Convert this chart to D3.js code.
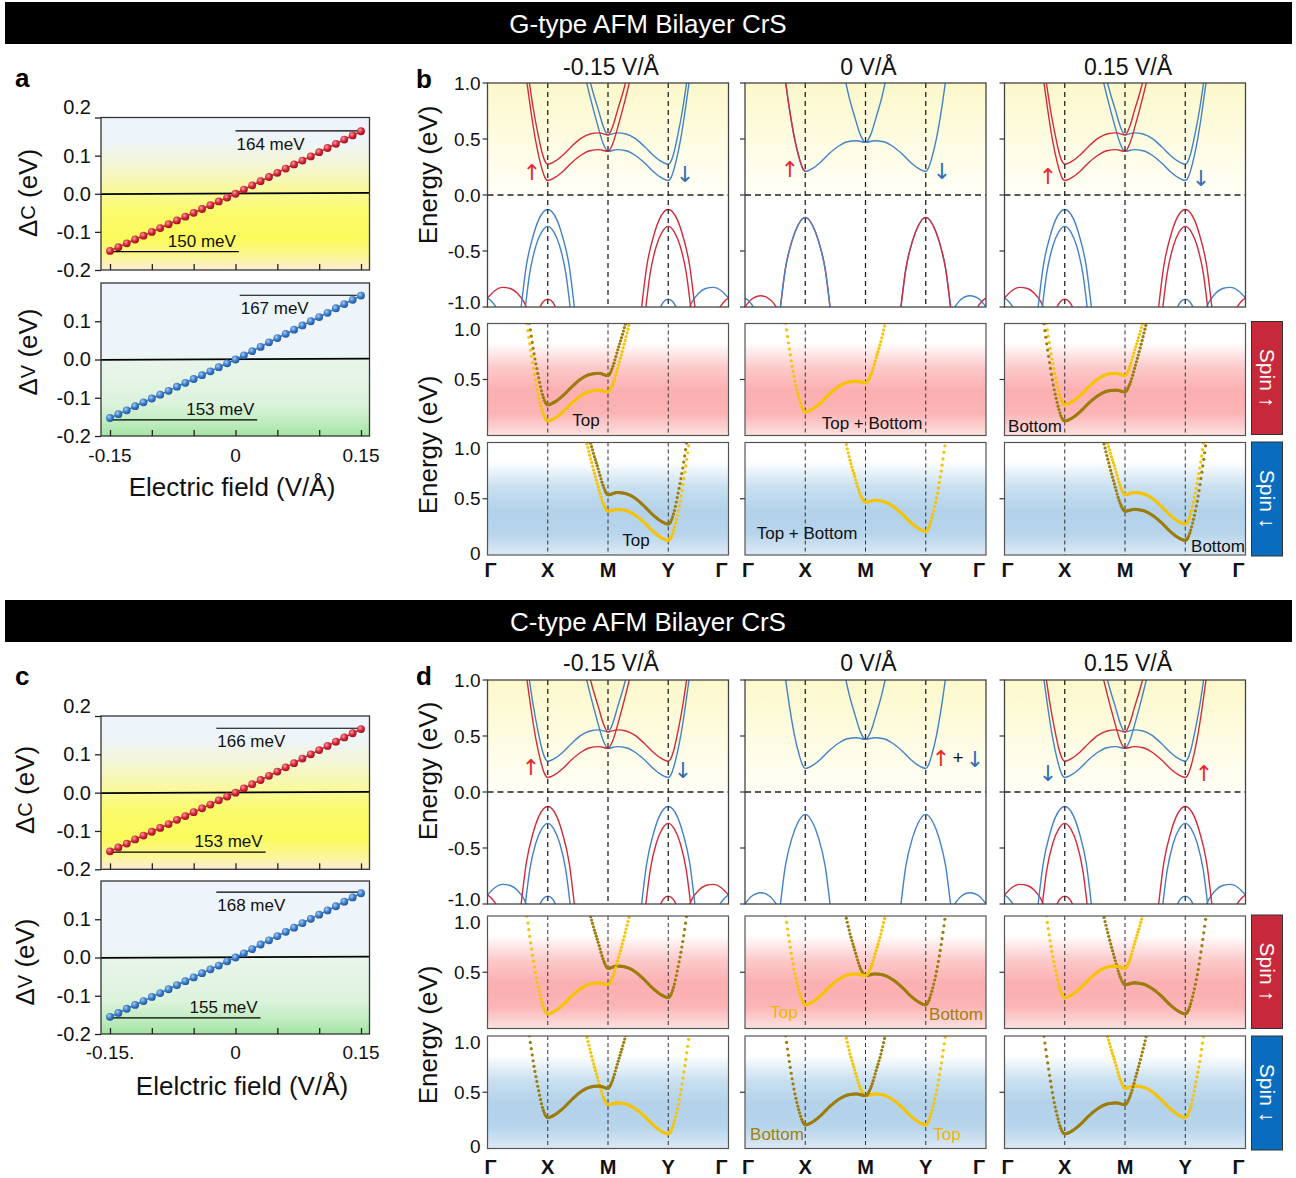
<!DOCTYPE html>
<html>
<head>
<meta charset="utf-8">
<style>
  body { margin: 0; background: #fff; }
  svg { font-family: Arial, "Liberation Sans", sans-serif; }
</style>
</head>
<body>
<svg width="1296" height="1178"></svg>
<script src="https://d3js.org/d3.v7.min.js"></script>
<script>
// ---------- data: panels a / c ----------
const fields = [-0.15,-0.14,-0.13,-0.12,-0.11,-0.10,-0.09,-0.08,-0.07,-0.06,-0.05,-0.04,-0.03,-0.02,-0.01,0,
                0.01,0.02,0.03,0.04,0.05,0.06,0.07,0.08,0.09,0.10,0.11,0.12,0.13,0.14,0.15];
const dcG = [-0.150,-0.140,-0.130,-0.120,-0.110,-0.100,-0.090,-0.080,-0.070,-0.060,-0.050,-0.040,-0.030,-0.020,-0.010,0.000,
             0.011,0.022,0.033,0.044,0.055,0.066,0.077,0.087,0.098,0.109,0.120,0.131,0.142,0.153,0.164];
const dvG = [-0.153,-0.143,-0.133,-0.122,-0.112,-0.102,-0.092,-0.082,-0.071,-0.061,-0.051,-0.041,-0.031,-0.020,-0.010,0.000,
             0.011,0.022,0.033,0.045,0.056,0.067,0.078,0.089,0.100,0.111,0.122,0.134,0.145,0.156,0.167];
const dcC = [-0.153,-0.143,-0.133,-0.122,-0.112,-0.102,-0.092,-0.082,-0.071,-0.061,-0.051,-0.041,-0.031,-0.020,-0.010,0.000,
             0.011,0.022,0.033,0.044,0.055,0.066,0.077,0.089,0.100,0.111,0.122,0.133,0.144,0.155,0.166];
const dvC = [-0.155,-0.145,-0.134,-0.124,-0.114,-0.103,-0.093,-0.083,-0.072,-0.062,-0.052,-0.041,-0.031,-0.021,-0.010,0.000,
             0.011,0.022,0.034,0.045,0.056,0.067,0.078,0.090,0.101,0.112,0.123,0.134,0.146,0.157,0.168];
// gap annotations: label, value, field from, field to
const gapsGc = [["164 meV", 0.165, 0.0, 0.15], ["150 meV", -0.152, -0.15, 0.004]];
const gapsGv = [["167 meV", 0.168, 0.005, 0.145], ["153 meV", -0.158, -0.15, 0.026]];
const gapsCc = [["166 meV", 0.168, -0.023, 0.15], ["153 meV", -0.155, -0.15, 0.036]];
const gapsCv = [["168 meV", 0.171, -0.023, 0.15], ["155 meV", -0.158, -0.15, 0.030]];
const fieldTicks = [-0.15, -0.10, -0.05, 0, 0.05, 0.10, 0.15];
const fieldLabelVals = [-0.15, 0, 0.15];
const fieldLabelsG = ["-0.15", "0", "0.15"];
const fieldLabelsC = ["-0.15.", "0", "0.15"];
const deltaTicks = [0.2, 0.1, 0, -0.1, -0.2];
const deltaLabels = ["0.2", "0.1", "0.0", "-0.1", "-0.2"];

// ---------- data: band structures (k: 0=Γ,1=X,2=M,3=Y,4=Γ ; E in eV) ----------
const kLabels = ["Γ", "X", "M", "Y", "Γ"];
const fieldTitles = ["-0.15 V/Å", "0 V/Å", "0.15 V/Å"];
const bandTicks = [1, 0.5, 0, -0.5, -1];
const bandTickLabels = ["1.0", "0.5", "0.0", "-0.5", "-1.0"];
const spinTicks = [1, 0.5, 0];
const spinTickLabels = ["1.0", "0.5", "0"];

// conduction bands at finite field
const bandA = [[0.64,1.06],[0.72,0.75],[0.80,0.48],[0.88,0.28],[0.95,0.16],[1.0,0.13],[1.1,0.15],[1.25,0.21],[1.4,0.29],
               [1.55,0.355],[1.7,0.395],[1.85,0.405],[2.0,0.39],[2.08,0.46],[2.18,0.64],[2.28,0.84],[2.38,1.06]];
const bandB = [[0.68,1.06],[0.76,0.77],[0.84,0.54],[0.91,0.37],[0.96,0.295],[1.0,0.275],[1.1,0.295],[1.25,0.355],[1.4,0.435],
               [1.55,0.505],[1.7,0.545],[1.85,0.555],[2.0,0.535],[2.07,0.6],[2.16,0.76],[2.25,0.92],[2.32,1.06]];
const bandC = [[1.68,1.06],[1.75,0.92],[1.84,0.76],[1.93,0.6],[2.0,0.535],[2.15,0.555],[2.3,0.545],[2.45,0.505],[2.6,0.435],
               [2.75,0.355],[2.9,0.295],[3.0,0.275],[3.04,0.295],[3.09,0.37],[3.16,0.54],[3.24,0.77],[3.32,1.06]];
const bandD = [[1.62,1.06],[1.72,0.84],[1.82,0.64],[1.92,0.46],[2.0,0.39],[2.15,0.405],[2.3,0.395],[2.45,0.355],[2.6,0.29],
               [2.75,0.21],[2.9,0.15],[3.0,0.13],[3.05,0.16],[3.12,0.28],[3.2,0.48],[3.28,0.75],[3.36,1.06]];
// conduction bands at zero field
const bandE = [[0.66,1.06],[0.74,0.76],[0.82,0.51],[0.9,0.33],[0.96,0.235],[1.0,0.21],[1.1,0.23],[1.25,0.29],[1.4,0.37],
               [1.55,0.435],[1.7,0.475],[1.85,0.485],[2.0,0.47],[2.08,0.53],[2.18,0.7],[2.27,0.87],[2.35,1.06]];
const bandF = [[1.65,1.06],[1.73,0.87],[1.82,0.7],[1.92,0.53],[2.0,0.47],[2.15,0.485],[2.3,0.475],[2.45,0.435],[2.6,0.37],
               [2.75,0.29],[2.9,0.23],[3.0,0.21],[3.04,0.235],[3.1,0.33],[3.18,0.51],[3.26,0.76],[3.34,1.06]];
// valence bands
const peakX1 = [[0.55,-1.04],[0.645,-0.63],[0.755,-0.37],[0.85,-0.22],[0.93,-0.15],[1.0,-0.13],[1.07,-0.15],[1.15,-0.22],[1.245,-0.37],[1.355,-0.63],[1.45,-1.04]];
const peakX2 = [[0.62,-1.04],[0.7,-0.7],[0.8,-0.46],[0.9,-0.33],[1.0,-0.28],[1.1,-0.33],[1.2,-0.46],[1.3,-0.7],[1.38,-1.04]];
const peakY1 = [[2.55,-1.04],[2.645,-0.63],[2.755,-0.37],[2.85,-0.22],[2.93,-0.15],[3.0,-0.13],[3.07,-0.15],[3.15,-0.22],[3.245,-0.37],[3.355,-0.63],[3.45,-1.04]];
const peakY2 = [[2.62,-1.04],[2.7,-0.7],[2.8,-0.46],[2.9,-0.33],[3.0,-0.28],[3.1,-0.33],[3.2,-0.46],[3.3,-0.7],[3.38,-1.04]];
const peakX0 = [[0.58,-1.04],[0.67,-0.66],[0.78,-0.41],[0.88,-0.27],[1.0,-0.2],[1.12,-0.27],[1.22,-0.41],[1.33,-0.66],[1.42,-1.04]];
const peakY0 = [[2.58,-1.04],[2.67,-0.66],[2.78,-0.41],[2.88,-0.27],[3.0,-0.2],[3.12,-0.27],[3.22,-0.41],[3.33,-0.66],[3.42,-1.04]];
const arcL = [[0,-0.92],[0.12,-0.855],[0.25,-0.825],[0.38,-0.835],[0.5,-0.88],[0.6,-0.95],[0.68,-1.05]];
const arcR = [[3.32,-1.05],[3.4,-0.95],[3.5,-0.88],[3.62,-0.835],[3.75,-0.825],[3.88,-0.855],[4.0,-0.92]];
const dipL = [[0,-0.92],[0.07,-0.95],[0.14,-1.0],[0.18,-1.04]];
const dipR = [[3.82,-1.04],[3.86,-1.0],[3.93,-0.95],[4.0,-0.92]];
const bumpX = [[0.84,-1.04],[0.92,-0.955],[1.0,-0.93],[1.08,-0.955],[1.16,-1.04]];
const bumpY = [[2.84,-1.04],[2.92,-0.955],[3.0,-0.93],[3.08,-0.955],[3.16,-1.04]];
const arc0L = [[0,-1.0],[0.1,-0.935],[0.27,-0.9],[0.42,-0.935],[0.57,-1.04]];
const arc0R = [[3.43,-1.04],[3.58,-0.935],[3.73,-0.9],[3.9,-0.935],[4.0,-1.0]];

// ---------- styling ----------
const RED = "#d22b3b", BLUE = "#4282c8", YEL = "#f6c300", OLV = "#9c7c0c";
const ARROW_FONT = "'DejaVu Sans', sans-serif";

const svg = d3.select("svg");
const defs = svg.append("defs");

function vGrad(id, stops) {
  const g = defs.append("linearGradient").attr("id", id)
    .attr("x1", 0).attr("y1", 0).attr("x2", 0).attr("y2", 1);
  stops.forEach(s => g.append("stop").attr("offset", s[0]).attr("stop-color", s[1]));
}
vGrad("gDc", [[0, "#eef4fb"], [0.16, "#eef5f8"], [0.3, "#f3f6d6"], [0.45, "#f8f8a6"], [0.62, "#fbfb6c"], [0.8, "#fbfb5c"], [0.92, "#fbf59a"], [1, "#fcecd6"]]);
vGrad("gDv", [[0, "#eef4fb"], [0.45, "#eef5fa"], [0.52, "#e8f5ea"], [0.78, "#ddf3dd"], [0.9, "#c2edc2"], [1, "#a4e3a4"]]);
vGrad("gBand", [[0, "#fcf8cb"], [1, "#fffff7"]]);
vGrad("gUp", [[0, "#ffffff"], [0.17, "#ffffff"], [0.4, "#fcc8c9"], [0.6, "#fbafb1"], [0.8, "#fbb4b5"], [1, "#fde1e1"]]);
vGrad("gDn", [[0, "#ffffff"], [0.17, "#ffffff"], [0.4, "#c8dff0"], [0.6, "#b3d2ea"], [0.8, "#b6d4eb"], [1, "#dce9f5"]]);

function rGrad(id, c0, c1, c2) {
  const g = defs.append("radialGradient").attr("id", id).attr("cx", "38%").attr("cy", "35%").attr("r", "65%");
  g.append("stop").attr("offset", 0).attr("stop-color", c0);
  g.append("stop").attr("offset", 0.55).attr("stop-color", c1);
  g.append("stop").attr("offset", 1).attr("stop-color", c2);
}
rGrad("dotRed", "#f6a3ab", "#d42a3a", "#a3101e");
rGrad("dotBlue", "#acccf2", "#3f7ec9", "#1d57a3");

// ---------- headers ----------
function header(y, label) {
  svg.append("rect").attr("x", 5).attr("y", y).attr("width", 1287).attr("height", 42).attr("fill", "#000");
  svg.append("text").attr("x", 648).attr("y", y + 22).attr("text-anchor", "middle")
    .attr("dominant-baseline", "central").attr("fill", "#fff").attr("font-size", 26).text(label);
}
header(2, "G-type AFM Bilayer CrS");
header(600, "C-type AFM Bilayer CrS");

function panelLetter(x, y, s) {
  svg.append("text").attr("x", x).attr("y", y).attr("font-size", 26).attr("font-weight", "bold").text(s);
}
panelLetter(15, 87, "a"); panelLetter(416, 88, "b");
panelLetter(15, 685, "c"); panelLetter(416, 685, "d");

// ---------- Δ panels ----------
const xField = d3.scaleLinear().domain([-0.15, 0.15]).range([110, 361]);
const DL = 101, DR = 369.5;

function deltaPanel(y0, y1, values, gaps, grad, dot, col, sub, labelY, labelX, labels) {
  const y = d3.scaleLinear().domain([-0.2, 0.2]).range([y1, y0]);
  svg.append("rect").attr("x", DL).attr("y", y0).attr("width", DR - DL).attr("height", y1 - y0)
    .attr("fill", `url(#${grad})`);
  svg.append("line").attr("x1", DL).attr("x2", DR).attr("y1", y(0) + 0.4).attr("y2", y(0) - 0.8)
    .attr("stroke", "#000").attr("stroke-width", 1.7);

  gaps.forEach(gp => {
    const gy = y(gp[1]);
    svg.append("line").attr("x1", xField(gp[2])).attr("x2", xField(gp[3])).attr("y1", gy).attr("y2", gy)
      .attr("stroke", "#000").attr("stroke-width", 1.2);
    const t = svg.append("text").attr("font-size", 17).attr("fill", "#111").text(gp[0]);
    if (gp[1] > 0) t.attr("x", xField(gp[2]) + 1).attr("y", gy + 19);
    else t.attr("x", xField(gp[3]) - 3).attr("y", gy - 5).attr("text-anchor", "end");
  });

  const pts = d3.zip(fields, values);
  svg.append("path").datum(pts)
    .attr("d", d3.line().x(d => xField(d[0])).y(d => y(d[1])))
    .attr("fill", "none").attr("stroke", col).attr("stroke-width", 1.6);
  svg.append("g").selectAll("circle").data(pts).join("circle")
    .attr("cx", d => xField(d[0])).attr("cy", d => y(d[1])).attr("r", 3.9)
    .attr("fill", `url(#${dot})`);

  svg.append("rect").attr("x", DL).attr("y", y0).attr("width", DR - DL).attr("height", y1 - y0)
    .attr("fill", "none").attr("stroke", "#333").attr("stroke-width", 1.3);

  // y axis (outward ticks)
  const ya = svg.append("g").attr("transform", `translate(${DL},0)`)
    .call(d3.axisLeft(y).tickValues(deltaTicks.slice(labels ? 0 : 1)).tickSize(6).tickPadding(4)
      .tickFormat(d => deltaLabels[deltaTicks.indexOf(d)]));
  ya.select(".domain").remove();
  ya.selectAll("line").attr("stroke", "#222").attr("stroke-width", 1.3);
  ya.selectAll("text").attr("font-size", 20).attr("font-family", "Arial, 'Liberation Sans', sans-serif").attr("fill", "#111");
  ya.selectAll(".tick").filter(d => d === 0.2).select("text").attr("dy", "-0.2em");

  // x ticks (inward)
  const xa = svg.append("g").attr("transform", `translate(0,${y1})`)
    .call(d3.axisTop(xField).tickValues(fieldTicks).tickSize(6).tickFormat(""));
  xa.select(".domain").remove();
  xa.selectAll("line").attr("stroke", "#222").attr("stroke-width", 1.3);

  const lab = svg.append("text").attr("transform", `translate(${labelX},${labelY}) rotate(-90)`)
    .attr("text-anchor", "middle").attr("dominant-baseline", "central").attr("font-size", 26).attr("fill", "#111");
  lab.append("tspan").text("Δ");
  lab.append("tspan").attr("font-size", 20).text(sub);
  lab.append("tspan").text(" (eV)");
}

function fieldAxis(yText, labels, titleY, titleX, title) {
  svg.append("g").selectAll("text").data(fieldLabelVals).join("text")
    .attr("x", d => xField(d)).attr("y", yText).attr("text-anchor", "middle").attr("dominant-baseline", "central")
    .attr("font-size", 19).attr("fill", "#111").text((d, i) => labels[i]);
  svg.append("text").attr("x", titleX).attr("y", titleY).attr("text-anchor", "middle").attr("dominant-baseline", "central")
    .attr("font-size", 26).attr("fill", "#111").text(title);
}

deltaPanel(117.5, 270, dcG, gapsGc, "gDc", "dotRed", "#c9283a", "C", 193, 28, true);
deltaPanel(283, 436, dvG, gapsGv, "gDv", "dotBlue", "#3a78c4", "V", 352, 28, false);
fieldAxis(455, fieldLabelsG, 487, 232, "Electric field (V/Å)");
deltaPanel(716, 869.3, dcC, gapsCc, "gDc", "dotRed", "#c9283a", "C", 790, 25, true);
deltaPanel(881, 1034, dvC, gapsCv, "gDv", "dotBlue", "#3a78c4", "V", 962, 25, false);
fieldAxis(1052, fieldLabelsC, 1086, 242, "Elelctric field (V/Å)");

// ---------- band panels ----------
const BW = 241;
const colLeft = [487.5, 745, 1004.5];
const kx = left => d3.scaleLinear().domain([0, 4]).range([left, left + BW]);
const bandLine = (x, y) => d3.line().x(d => x(d[0])).y(d => y(d[1])).curve(d3.curveMonotoneX);
let clipN = 0;

function clipGroup(left, top, bottom) {
  const id = "clip" + (clipN++);
  defs.append("clipPath").attr("id", id).append("rect")
    .attr("x", left).attr("y", top).attr("width", BW).attr("height", bottom - top);
  return svg.append("g").attr("clip-path", `url(#${id})`);
}

function leftTicks(left, y, vals) {
  svg.append("g").selectAll("line").data(vals).join("line")
    .attr("x1", left - 5).attr("x2", left).attr("y1", d => y(d)).attr("y2", d => y(d))
    .attr("stroke", "#333").attr("stroke-width", 1.2);
}

function bandPanel(col, top, bottom, lines, withLabels) {
  const left = colLeft[col], x = kx(left);
  const y = d3.scaleLinear().domain([-1, 1]).range([bottom, top]);
  svg.append("rect").attr("x", left).attr("y", top).attr("width", BW).attr("height", y(0) - top)
    .attr("fill", "url(#gBand)");
  const g = clipGroup(left, top, bottom);
  lines.forEach(l => g.append("path").attr("d", bandLine(x, y)(l[0]))
    .attr("fill", "none").attr("stroke", l[1]).attr("stroke-width", 1.4));
  g.selectAll("line.kv").data([1, 2, 3]).join("line").attr("class", "kv")
    .attr("x1", d => x(d)).attr("x2", d => x(d)).attr("y1", top).attr("y2", bottom)
    .attr("stroke", "#222").attr("stroke-width", 1.3).attr("stroke-dasharray", "5,4");
  g.append("line").attr("x1", left).attr("x2", left + BW).attr("y1", y(0)).attr("y2", y(0))
    .attr("stroke", "#222").attr("stroke-width", 1.3).attr("stroke-dasharray", "6,4");
  svg.append("rect").attr("x", left).attr("y", top).attr("width", BW).attr("height", bottom - top)
    .attr("fill", "none").attr("stroke", "#444").attr("stroke-width", 1.3);
  leftTicks(left, y, bandTicks);
  if (withLabels) {
    svg.append("g").selectAll("text").data(bandTicks).join("text")
      .attr("x", left - 7).attr("y", (d, i) => y(d) + (i === 4 ? -5 : 0)).attr("text-anchor", "end")
      .attr("dominant-baseline", "central").attr("font-size", 19).attr("fill", "#111")
      .text((d, i) => bandTickLabels[i]);
  }
}

function dotBand(g, pts, x, y, color) {
  const path = g.append("path").attr("d", bandLine(x, y)(pts)).attr("fill", "none");
  const node = path.node(), len = node.getTotalLength();
  const dots = [];
  let nx = -Infinity;
  for (let s = 0; s <= len; s += 0.35) {
    const p = node.getPointAtLength(s);
    if (p.x >= nx) { dots.push([p.x, p.y]); nx = p.x + 0.9; }
  }
  path.remove();
  g.append("g").selectAll("circle").data(dots).join("circle")
    .attr("cx", d => d[0]).attr("cy", d => d[1]).attr("r", 1.6).attr("fill", color);
}

function spinPanel(col, top, bottom, grad, bands, withLabels, isLower) {
  const left = colLeft[col], x = kx(left);
  const y = d3.scaleLinear().domain([0, 1]).range([bottom, top]);
  svg.append("rect").attr("x", left).attr("y", top).attr("width", BW).attr("height", bottom - top)
    .attr("fill", `url(#${grad})`);
  const g = clipGroup(left, top, bottom);
  g.selectAll("line.kv").data([1, 2, 3]).join("line").attr("class", "kv")
    .attr("x1", d => x(d)).attr("x2", d => x(d)).attr("y1", top).attr("y2", bottom)
    .attr("stroke", "#333").attr("stroke-width", 1).attr("stroke-dasharray", "4,3");
  bands.forEach(b => dotBand(g, b[0], x, y, b[1]));
  svg.append("rect").attr("x", left).attr("y", top).attr("width", BW).attr("height", bottom - top)
    .attr("fill", "none").attr("stroke", "#555").attr("stroke-width", 1.2);
  leftTicks(left, y, [0.5]);
  if (withLabels) {
    const vals = isLower ? spinTicks : spinTicks.slice(0, 2);
    svg.append("g").selectAll("text").data(vals).join("text")
      .attr("x", left - 7).attr("y", (d, i) => y(d) + (i === 0 ? 6 : 0) + (d === 0 ? -2 : 0))
      .attr("text-anchor", "end").attr("dominant-baseline", "central").attr("font-size", 19).attr("fill", "#111")
      .text((d, i) => spinTickLabels[i]);
  }
}

function kAxis(col, yk) {
  const left = colLeft[col], x = kx(left);
  const pos = [left + 3, x(1), x(2), x(3), left + BW - 7];
  svg.append("g").selectAll("text").data(kLabels).join("text")
    .attr("x", (d, i) => pos[i]).attr("y", yk).attr("text-anchor", "middle").attr("dominant-baseline", "central")
    .attr("font-size", 20).attr("font-weight", "bold").attr("fill", "#111").text(d => d);
}

function colTitle(col, y) {
  svg.append("text").attr("x", colLeft[col] + BW / 2 + 3).attr("y", y).attr("text-anchor", "middle")
    .attr("dominant-baseline", "central").attr("font-size", 23).attr("fill", "#111").text(fieldTitles[col]);
}

function energyLabel(cy) {
  svg.append("text").attr("transform", `translate(428,${cy}) rotate(-90)`).attr("text-anchor", "middle")
    .attr("dominant-baseline", "central").attr("font-size", 26).attr("fill", "#111").text("Energy (eV)");
}

function note(x, y, s, color, size, family) {
  const t = svg.append("text").attr("x", x).attr("y", y).attr("text-anchor", "middle").attr("dominant-baseline", "central")
    .attr("font-size", size || 17).attr("fill", color).text(s);
  if (family) t.attr("font-family", family);
}
function arrow(x, y, up) {
  note(x, y, up ? "↑" : "↓", up ? "#e8262f" : "#2e6fb5", 22, ARROW_FONT);
}

function spinBox(top, bottom, color, label) {
  svg.append("rect").attr("x", 1251.5).attr("y", top).attr("width", 31).attr("height", bottom - top)
    .attr("fill", color).attr("stroke", "#333").attr("stroke-width", 1);
  svg.append("text").attr("transform", `translate(1267,${(top + bottom) / 2}) rotate(90)`)
    .attr("text-anchor", "middle").attr("dominant-baseline", "central").attr("font-size", 21)
    .attr("fill", "#fff").text(label);
}

// ---- G-type (panel b) ----
const G = { title: 67, bT: 83, bB: 307, uT: 323.5, uB: 435.5, dT: 442.5, dB: 555, k: 570 };
const gFinite = [[arcL, RED], [dipL, BLUE], [bumpX, RED], [bumpY, BLUE], [arcR, BLUE], [dipR, RED],
                 [peakX1, BLUE], [peakX2, BLUE], [peakY1, RED], [peakY2, RED],
                 [bandC, BLUE], [bandD, BLUE], [bandA, RED], [bandB, RED]];
bandPanel(0, G.bT, G.bB, gFinite, true);
bandPanel(1, G.bT, G.bB, [[arc0L, RED], [arc0R, BLUE], [dipL, BLUE], [dipR, RED],
  [peakX0, RED], [peakX0, BLUE], [peakY0, BLUE], [peakY0, RED],
  [bandE, BLUE], [bandF, BLUE], [bandE.slice(0, 6), RED]], false);
bandPanel(2, G.bT, G.bB, gFinite, false);

spinPanel(0, G.uT, G.uB, "gUp", [[bandB, OLV], [bandA, YEL]], true, false);
spinPanel(0, G.dT, G.dB, "gDn", [[bandC, OLV], [bandD, YEL]], true, true);
spinPanel(1, G.uT, G.uB, "gUp", [[bandE, YEL]], false, false);
spinPanel(1, G.dT, G.dB, "gDn", [[bandF, YEL]], false, true);
spinPanel(2, G.uT, G.uB, "gUp", [[bandB, YEL], [bandA, OLV]], false, false);
spinPanel(2, G.dT, G.dB, "gDn", [[bandC, YEL], [bandD, OLV]], false, true);
[0, 1, 2].forEach(c => { kAxis(c, G.k); colTitle(c, G.title); });
energyLabel(175); energyLabel(445);
spinBox(321.5, 434.5, "#c8293a", "Spin ↑");
spinBox(442, 556, "#0a6cbf", "Spin ↓");

arrow(532, 172, true); arrow(685, 174, false);
arrow(790, 169, true); arrow(942, 171, false);
arrow(1048, 176, true); arrow(1201, 178, false);
note(586, 420, "Top", "#111"); note(636, 540, "Top", "#111");
note(872, 423, "Top + Bottom", "#111"); note(807, 533, "Top + Bottom", "#111");
note(1035, 426, "Bottom", "#111"); note(1218, 546, "Bottom", "#111");

// ---- C-type (panel d) ----
const C = { title: 663, bT: 680, bB: 904, uT: 916, uB: 1028.5, dT: 1036, dB: 1148.5, k: 1167 };
bandPanel(0, C.bT, C.bB, [[arcL, BLUE], [dipL, RED], [bumpX, BLUE], [bumpY, RED], [arcR, RED], [dipR, BLUE],
  [peakX2, BLUE], [peakX1, RED], [peakY2, RED], [peakY1, BLUE],
  [bandB, BLUE], [bandD, BLUE], [bandA, RED], [bandC, RED]], true);
bandPanel(1, C.bT, C.bB, [[arc0L, BLUE], [arc0R, BLUE], [peakX0, BLUE], [peakY0, BLUE],
  [bandE, BLUE], [bandF, BLUE]], false);
bandPanel(2, C.bT, C.bB, [[arcL, RED], [dipL, BLUE], [bumpX, RED], [bumpY, BLUE], [arcR, BLUE], [dipR, RED],
  [peakX2, RED], [peakX1, BLUE], [peakY2, BLUE], [peakY1, RED],
  [bandA, BLUE], [bandC, BLUE], [bandB, RED], [bandD, RED]], false);

spinPanel(0, C.uT, C.uB, "gUp", [[bandC, OLV], [bandA, YEL]], true, false);
spinPanel(0, C.dT, C.dB, "gDn", [[bandD, YEL], [bandB, OLV]], true, true);
spinPanel(1, C.uT, C.uB, "gUp", [[bandF, OLV], [bandE, YEL]], false, false);
spinPanel(1, C.dT, C.dB, "gDn", [[bandF, YEL], [bandE, OLV]], false, true);
spinPanel(2, C.uT, C.uB, "gUp", [[bandD, OLV], [bandB, YEL]], false, false);
spinPanel(2, C.dT, C.dB, "gDn", [[bandC, YEL], [bandA, OLV]], false, true);
[0, 1, 2].forEach(c => { kAxis(c, C.k); colTitle(c, C.title); });
energyLabel(771); energyLabel(1035);
spinBox(915, 1028.5, "#c8293a", "Spin ↑");
spinBox(1036, 1150, "#0a6cbf", "Spin ↓");

arrow(531, 767, true); arrow(683, 770, false);
arrow(941, 758, true); note(958, 757, "+", "#111", 19); arrow(975, 759, false);
arrow(1048, 773, false); arrow(1204, 773, true);
note(784, 1012, "Top", "#f2b400"); note(956, 1014, "Bottom", "#a08010");
note(777, 1134, "Bottom", "#a08010"); note(947, 1134, "Top", "#f2b400");
</script>
</body>
</html>
